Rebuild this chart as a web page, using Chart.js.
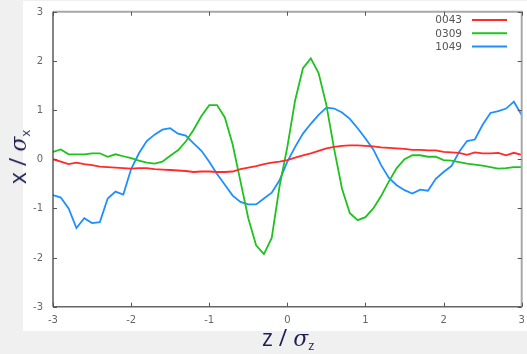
<!DOCTYPE html>
<html>
<head>
<meta charset="utf-8">
<script src="https://cdn.jsdelivr.net/npm/chart.js@4/dist/chart.umd.min.js"></script>
<style>
  html, body { margin: 0; padding: 0; background: #f0f0f0; }
  #wrap { position: relative; width: 527px; height: 354px; overflow: hidden; }
  canvas { position: absolute; left: 0; top: 0; }
  .ttl { position: absolute; color: #1c1f52; font-family: "Open Sans", "DejaVu Sans", sans-serif; font-size: 23px; white-space: nowrap; line-height: 1; }
  .ttl i { font-family: "DejaVu Serif", serif; font-size: 22px; }
  .ttl sub { font-size: 13px; vertical-align: -4px; }
  #xt { left: 262px; top: 326px; }
  #yt { left: 19px; top: 157px; transform: translate(-50%, -50%) rotate(-90deg); }
</style>
</head>
<body>
<div id="wrap">
  <canvas id="c" width="527" height="354"></canvas>
  <div class="ttl" id="xt">z / <i>σ</i><sub>z</sub></div>
  <div class="ttl" id="yt">x / <i>σ</i><sub>x</sub></div>
</div>
<script>
const zValues = [-3.0,-2.9,-2.8,-2.7,-2.6,-2.5,-2.4,-2.3,-2.2,-2.1,
  -2.0,-1.9,-1.8,-1.7,-1.6,-1.5,-1.4,-1.3,-1.2,-1.1,
  -1.0,-0.9,-0.8,-0.7,-0.6,-0.5,-0.4,-0.3,-0.2,-0.1,
  0.0,0.1,0.2,0.3,0.4,0.5,0.6,0.7,0.8,0.9,
  1.0,1.1,1.2,1.3,1.4,1.5,1.6,1.7,1.8,1.9,
  2.0,2.1,2.2,2.3,2.4,2.5,2.6,2.7,2.8,2.9,3.0];

const series0043 = [0.0,-0.05,-0.1,-0.07,-0.1,-0.12,-0.15,-0.16,-0.17,-0.18,
  -0.19,-0.18,-0.18,-0.2,-0.21,-0.22,-0.23,-0.24,-0.26,-0.25,
  -0.25,-0.26,-0.26,-0.25,-0.2,-0.17,-0.14,-0.1,-0.07,-0.05,
  -0.02,0.03,0.08,0.12,0.17,0.22,0.25,0.27,0.28,0.28,
  0.27,0.26,0.24,0.23,0.22,0.21,0.19,0.19,0.18,0.18,
  0.15,0.14,0.13,0.09,0.14,0.12,0.12,0.13,0.08,0.13,0.09];

const series0309 = [0.15,0.2,0.1,0.1,0.1,0.12,0.12,0.05,0.1,0.06,
  0.02,-0.03,-0.07,-0.09,-0.05,0.07,0.18,0.36,0.6,0.88,
  1.1,1.1,0.85,0.3,-0.45,-1.2,-1.75,-1.93,-1.6,-0.55,
  0.25,1.2,1.85,2.05,1.75,1.1,0.2,-0.6,-1.1,-1.24,
  -1.18,-1.0,-0.75,-0.45,-0.18,0.0,0.08,0.08,0.05,0.05,
  -0.02,-0.03,-0.06,-0.09,-0.11,-0.13,-0.16,-0.19,-0.18,-0.16,-0.16];

const series1049 = [-0.73,-0.78,-1.0,-1.4,-1.2,-1.3,-1.28,-0.8,-0.66,-0.72,
  -0.2,0.12,0.37,0.5,0.6,0.63,0.52,0.48,0.32,0.17,
  -0.05,-0.3,-0.52,-0.74,-0.87,-0.92,-0.92,-0.8,-0.68,-0.43,
  -0.05,0.25,0.52,0.72,0.9,1.05,1.03,0.95,0.82,0.63,
  0.42,0.2,-0.12,-0.38,-0.53,-0.63,-0.7,-0.62,-0.64,-0.4,
  -0.26,-0.14,0.15,0.37,0.4,0.7,0.94,0.98,1.03,1.17,0.9];

const seriesLabels = ["0043", "0309", "1049"];
const seriesColors = ["#ff2a2a", "#1fc21f", "#1e8fff"];
const tickValues = [-3, -2, -1, 0, 1, 2, 3];
const tickLabels = ["-3", "-2", "-1", "0", "1", "2", "3"];

function pts(arr) { return zValues.map((z, i) => ({ x: z, y: arr[i] })); }
const allSeries = [series0043, series0309, series1049];

const frame = {
  id: 'frame',
  beforeDraw(chart) {
    const ctx = chart.ctx;
    ctx.save();
    ctx.fillStyle = '#f0f0f0';
    ctx.fillRect(0, 0, chart.width, chart.height);
    ctx.fillStyle = '#ffffff';
    ctx.fillRect(23, 1, chart.width - 23, 330);
    ctx.restore();
  },
  afterDatasetsDraw(chart) {
    const ctx = chart.ctx;
    const a = chart.chartArea;
    const xs = chart.scales.x, ys = chart.scales.y;
    ctx.save();
    ctx.strokeStyle = '#a8a8a8';
    ctx.lineWidth = 2;
    ctx.beginPath();
    ctx.moveTo(a.left, a.top); ctx.lineTo(a.right, a.top); ctx.lineTo(a.right, a.bottom);
    ctx.stroke();
    ctx.strokeStyle = '#333333';
    ctx.lineWidth = 1.2;
    ctx.beginPath();
    ctx.moveTo(a.left, a.top); ctx.lineTo(a.left, a.bottom);
    ctx.stroke();
    ctx.strokeStyle = '#666666';
    ctx.lineWidth = 1.6;
    ctx.beginPath();
    ctx.moveTo(a.left, a.bottom); ctx.lineTo(a.right, a.bottom);
    ctx.stroke();
    ctx.strokeStyle = '#555555';
    ctx.lineWidth = 1;
    ctx.beginPath();
    tickValues.forEach(v => {
      const px = Math.round(xs.getPixelForValue(v)) + 0.5;
      ctx.moveTo(px, a.bottom); ctx.lineTo(px, a.bottom - 4);
      ctx.moveTo(px, a.top); ctx.lineTo(px, a.top + 4);
      const py = Math.round(ys.getPixelForValue(v)) + 0.5;
      ctx.moveTo(a.left, py); ctx.lineTo(a.left + 4, py);
      ctx.moveTo(a.right, py); ctx.lineTo(a.right - 4, py);
    });
    ctx.stroke();
    // tick labels
    ctx.fillStyle = '#666666';
    ctx.font = '10px "DejaVu Sans", sans-serif';
    ctx.textBaseline = 'middle';
    ctx.textAlign = 'center';
    tickValues.forEach((v, i) => {
      ctx.fillText(tickLabels[i], xs.getPixelForValue(v), a.bottom + 13.5);
    });
    ctx.textAlign = 'right';
    tickValues.forEach((v, i) => {
      ctx.fillText(tickLabels[i], a.left - 10, ys.getPixelForValue(v) + 0.5);
    });
    // legend
    ctx.font = '10.5px "DejaVu Sans", sans-serif';
    chart.data.datasets.forEach((ds, i) => {
      const y = 20 + i * 13.3;
      ctx.fillStyle = '#555555';
      ctx.fillText(ds.label, 462, y + 0.5);
      ctx.strokeStyle = ds.borderColor;
      ctx.lineWidth = 2;
      ctx.beginPath();
      ctx.moveTo(472, y); ctx.lineTo(507, y);
      ctx.stroke();
    });
    ctx.restore();
  }
};

new Chart(document.getElementById('c'), {
  type: 'line',
  data: {
    datasets: allSeries.map((s, i) => ({
      label: seriesLabels[i],
      data: pts(s),
      borderColor: seriesColors[i],
      backgroundColor: seriesColors[i],
      borderWidth: 1.8,
      pointRadius: 0,
      tension: 0,
      fill: false
    }))
  },
  options: {
    responsive: false,
    animation: false,
    events: [],
    layout: { padding: { top: 11.7, right: 5.3, left: 0, bottom: 0 } },
    plugins: { legend: { display: false }, tooltip: { enabled: false } },
    scales: {
      x: {
        type: 'linear', min: -3, max: 3,
        afterBuildTicks: s => { s.ticks = tickValues.map(v => ({ value: v })); },
        ticks: { display: false },
        grid: { drawOnChartArea: false, drawTicks: false },
        border: { display: false },
        afterFit: s => { s.height = 47.3; }
      },
      y: {
        type: 'linear', min: -3, max: 3,
        afterBuildTicks: s => { s.ticks = tickValues.map(v => ({ value: v })); },
        ticks: { display: false },
        grid: { drawOnChartArea: false, drawTicks: false },
        border: { display: false },
        afterFit: s => { s.width = 53; }
      }
    }
  },
  plugins: [frame]
});
</script>
</body>
</html>
